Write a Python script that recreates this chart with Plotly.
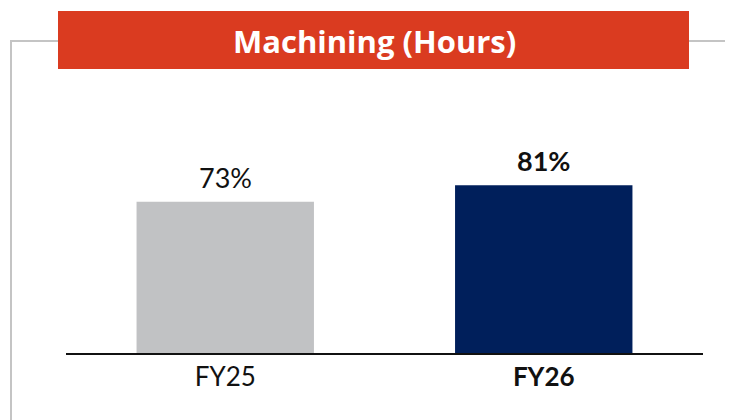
import plotly.graph_objects as go

categories = ["FY25", "FY26"]
values = [73, 81]
bar_colors = ["#C1C2C4", "#001F5B"]
label_bold = [False, True]
title_text = "Machining (Hours)"

FONT = "Lato, 'Open Sans', sans-serif"
TITLE_FONT = "'Open Sans', Lato, sans-serif"

def fmt(s, bold):
    return f"<b>{s}</b>" if bold else s

# page has an 8px body margin; figure is sized to fit the window
OFF = 8
W, H = 733 - OFF, 420 - OFF
# desired plot area in screen px: x 66..703, y 80..353
L, R = 66 - OFF, 733 - 703
T, B = 80 - OFF, 420 - 353
pw, ph = W - L - R, H - T - B

def px(xs):
    return (xs - OFF - L) / pw

def py(ys):
    return (T + ph - (ys - OFF)) / ph

fig = go.Figure()
fig.add_trace(go.Bar(
    x=categories, y=values,
    marker=dict(color=bar_colors, line=dict(width=0)),
    width=0.557,
    hoverinfo="skip",
))

for c, v, b in zip(categories, values, label_bold):
    fig.add_annotation(
        x=c, y=v, xref="x", yref="y",
        text=fmt(f"{v}%", b), showarrow=False,
        yanchor="bottom", yshift=6,
        font=dict(family=FONT, size=27, color="#111111"),
    )

# grey frame lines
grey = dict(color="#C4C4C4", width=2)
fig.add_shape(type="line", xref="paper", yref="paper",
              x0=px(11), x1=px(58), y0=py(41), y1=py(41), line=grey)
fig.add_shape(type="line", xref="paper", yref="paper",
              x0=px(689), x1=px(740), y0=py(41), y1=py(41), line=grey)
fig.add_shape(type="line", xref="paper", yref="paper",
              x0=px(11), x1=px(11), y0=py(40), y1=py(430), line=grey)
# red title box
fig.add_shape(type="rect", xref="paper", yref="paper",
              x0=px(58), x1=px(689), y0=py(69), y1=py(11),
              fillcolor="#DA3B20", line=dict(width=0))
fig.add_annotation(
    x=px((58 + 689) / 2 + 1), y=py(41), xref="paper", yref="paper",
    text=f"<b>{title_text}</b>", showarrow=False,
    xanchor="center", yanchor="middle",
    font=dict(family=TITLE_FONT, size=31, color="white"),
)

fig.update_layout(
    width=W, height=H,
    margin=dict(l=L, r=R, t=T, b=B, pad=0),
    paper_bgcolor="white", plot_bgcolor="white",
    showlegend=False,
    xaxis=dict(
        range=[-0.5, 1.5],
        tickmode="array", tickvals=categories,
        ticktext=[fmt(c, b) for c, b in zip(categories, label_bold)],
        tickfont=dict(family=FONT, size=26, color="#111111"),
        showline=True, linecolor="#111111", linewidth=2,
        ticks="", showgrid=False, zeroline=False,
    ),
    yaxis=dict(
        range=[0, ph / 2.072], visible=False, showgrid=False, zeroline=False,
    ),
)

fig.write_html("out.html")
